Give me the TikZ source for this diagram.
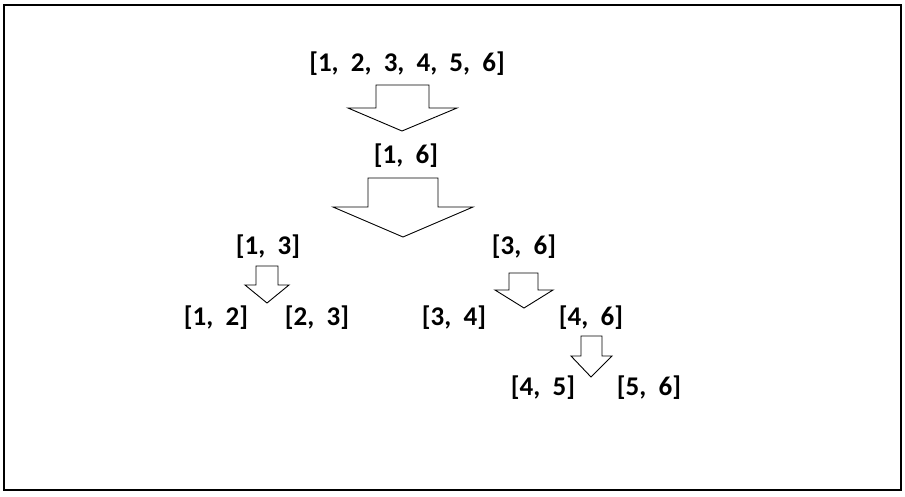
\documentclass[tikz,border=0pt]{standalone}
\usepackage{fontspec}
\setmainfont{Carlito}
\begin{document}
\begin{tikzpicture}[x=1pt,y=-1pt,
  lbl/.style={inner sep=0pt, font=\fontsize{27}{31}\selectfont\bfseries},
  blockarrow/.style={draw=black, fill=white, line width=0.9pt, line join=miter}]
\useasboundingbox (0,0) rectangle (905,496);
\draw[line width=1.4pt] (4,5) rectangle (901,490);
% labels
\node[lbl] (all) at (407,64) {[1,\ \ 2,\ \ 3,\ \ 4,\ \ 5,\ \ 6]};
\node[lbl] (r16) at (406,156) {[1,\ \ 6]};
\node[lbl] (r13) at (268,247) {[1,\ \ 3]};
\node[lbl] (r36) at (524,247) {[3,\ \ 6]};
\node[lbl] (r12) at (216,318) {[1,\ \ 2]};
\node[lbl] (r23) at (317,318) {[2,\ \ 3]};
\node[lbl] (r34) at (454,318) {[3,\ \ 4]};
\node[lbl] (r46) at (591,318) {[4,\ \ 6]};
\node[lbl] (r45) at (543,388) {[4,\ \ 5]};
\node[lbl] (r56) at (649,388) {[5,\ \ 6]};
% block arrows
\draw[blockarrow] (376,85) -- (429,85) -- (429,108) -- (457,108) -- (402,131) -- (348,108) -- (376,108) -- cycle;
\draw[blockarrow] (368,178) -- (438,178) -- (438,207) -- (473,207) -- (403,237) -- (333,207) -- (368,207) -- cycle;
\draw[blockarrow] (256,266) -- (278,266) -- (278,285) -- (289,285) -- (267,303) -- (245,285) -- (256,285) -- cycle;
\draw[blockarrow] (509,273) -- (538,273) -- (538,290) -- (553,290) -- (524,308) -- (495,290) -- (509,290) -- cycle;
\draw[blockarrow] (581,336) -- (602,336) -- (602,356) -- (612,356) -- (591,377) -- (571,356) -- (581,356) -- cycle;
\end{tikzpicture}
\end{document}
